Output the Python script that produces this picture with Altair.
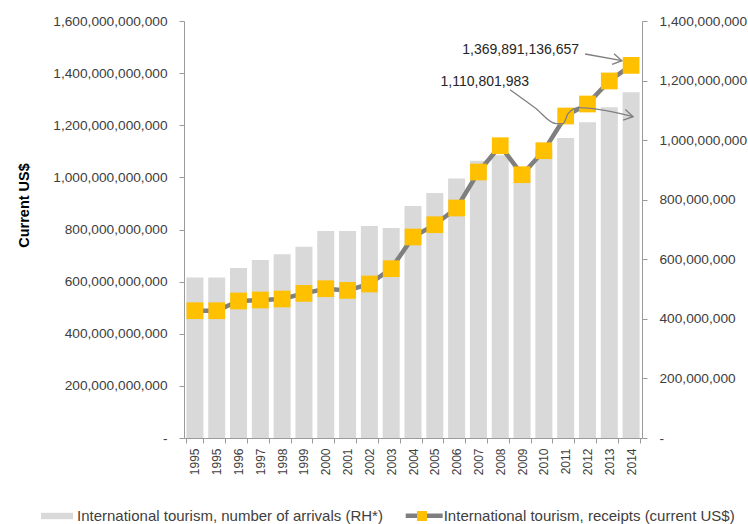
import altair as alt
import pandas as pd

# Category labels along the x axis (the source repeats 1995)
years = ["1995", "1995", "1996", "1997", "1998", "1999", "2000", "2001", "2002", "2003",
         "2004", "2005", "2006", "2007", "2008", "2009", "2010", "2011", "2012", "2013", "2014"]

# International tourism, number of arrivals (right-hand axis)
arrivals = [538_500_000, 538_500_000, 571_100_000, 598_000_000, 617_200_000, 641_800_000,
            694_600_000, 694_600_000, 711_500_000, 704_700_000, 778_800_000, 822_500_000,
            871_600_000, 931_200_000, 949_000_000, 905_000_000, 968_000_000, 1_007_600_000,
            1_060_100_000, 1_110_801_983, 1_161_100_000]

# International tourism, receipts in current US$ (left-hand axis)
receipts = [488_400_000_000, 488_400_000_000, 525_700_000_000, 529_500_000_000, 533_300_000_000,
            554_800_000_000, 572_800_000_000, 566_300_000_000, 590_900_000_000, 649_600_000_000,
            771_200_000_000, 818_400_000_000, 882_500_000_000, 1_020_600_000_000, 1_121_500_000_000,
            1_010_300_000_000, 1_102_300_000_000, 1_235_500_000_000, 1_281_500_000_000,
            1_369_891_136_657, 1_429_700_000_000]

left_ticks = [0, 200e9, 400e9, 600e9, 800e9, 1000e9, 1200e9, 1400e9, 1600e9]
right_ticks = [0, 200e6, 400e6, 600e6, 800e6, 1000e6, 1200e6, 1400e6]

arrivals_name = "International tourism, number of arrivals (RH*)"
receipts_name = "International tourism, receipts (current US$)"

# Callout arrows, in category-index / left-axis units
arrow_receipts_x = [17.89, 19.58]
arrow_receipts_y = [1.4734e12, 1.4477e12]
arrow_arrivals_x = [14.45, 15.59, 16.56, 16.88, 17.11, 17.57, 18.57, 20.09]
arrow_arrivals_y = [1.3364e12, 1.2673e12, 1.2060e12, 1.2060e12, 1.2443e12, 1.2673e12,
                    1.2597e12, 1.2328e12]

FONT = "Liberation Sans"
LABEL = "#404040"
AXIS = "#9a9a9a"
GRAY_BAR = "#D9D9D9"
GRAY_LINE = "#7F7F7F"
GOLD = "#FFC000"

W, H = 458, 417
PAD_L, PAD_T = 184, 21

df = pd.DataFrame({
    "idx": list(range(len(years))),
    "year": years,
    "arrivals": arrivals,
    "receipts": receipts,
    "bar_series": [arrivals_name] * len(years),
    "line_series": [receipts_name] * len(years),
})

year_expr = "[" + ",".join(f"'{y}'" for y in years) + "][datum.value]"
num_expr = "datum.value == 0 ? '-' : format(datum.value, ',.0f')"

x_enc = alt.X(
    "idx:O",
    scale=alt.Scale(paddingInner=0.22, paddingOuter=0.11),
    axis=alt.Axis(
        title=None, labelExpr=year_expr, labelAngle=270, tickBand="extent",
        labelFontSize=12, labelFont=FONT, labelColor=LABEL, labelPadding=5,
        tickSize=5, tickColor=AXIS, domainColor=AXIS, grid=False,
    ),
)

bars = alt.Chart(df).mark_bar().encode(
    x=x_enc,
    y=alt.Y(
        "arrivals:Q",
        scale=alt.Scale(domain=[0, 1.4e9], nice=False),
        axis=alt.Axis(
            orient="right", values=right_ticks, labelExpr=num_expr, title=None,
            labelFontSize=13.7, labelFont=FONT, labelColor=LABEL, labelPadding=12,
            tickSize=5, tickColor=AXIS, domainColor=AXIS, grid=False,
        ),
    ),
    fill=alt.Fill(
        "bar_series:N",
        scale=alt.Scale(range=[GRAY_BAR]),
        legend=alt.Legend(
            orient="none", legendX=41 - PAD_L, legendY=516 - PAD_T - 16, title=None,
            symbolType="M-1,-0.2H1V0.2H-1Z", symbolSize=1024, symbolStrokeWidth=0,
            labelFont=FONT, labelFontSize=15, labelColor=LABEL, labelOffset=4,
            padding=0, labelLimit=0,
        ),
    ),
)

y_left = alt.Y(
    "receipts:Q",
    scale=alt.Scale(domain=[0, 1.6e12], nice=False),
    axis=alt.Axis(
        orient="left", values=left_ticks, labelExpr=num_expr,
        title="Current US$", titleFont=FONT, titleFontSize=14.5, titleFontWeight="bold",
        titleColor="#000000", titleAngle=270, titleAlign="center", titleBaseline="middle",
        titleX=24 - PAD_L, titleY=205 - PAD_T,
        labelFontSize=13.7, labelFont=FONT, labelColor=LABEL, labelPadding=12,
        tickSize=5, tickColor=AXIS, domainColor=AXIS, grid=False,
    ),
)

line = alt.Chart(df).mark_line(strokeWidth=4.5).encode(
    x=x_enc,
    y=y_left,
    stroke=alt.Stroke(
        "line_series:N",
        scale=alt.Scale(range=[GRAY_LINE]),
        legend=alt.Legend(
            orient="none", legendX=403 - PAD_L + 1.7, legendY=516 - PAD_T - 19.8, title=None,
            symbolType="M-1.1,0H1.1", symbolSize=1130, symbolStrokeWidth=4.5,
            labelFont=FONT, labelFontSize=15, labelColor=LABEL, labelOffset=0,
            padding=0, labelLimit=0,
        ),
    ),
)

points = alt.Chart(df).mark_point(shape="square", filled=True, size=280, opacity=1).encode(
    x=x_enc,
    y=y_left,
    color=alt.Color(
        "line_series:N",
        scale=alt.Scale(range=[GOLD]),
        legend=alt.Legend(
            orient="none", legendX=417 - PAD_L, legendY=516 - PAD_T - 5, title=None,
            symbolType="square", symbolSize=100, symbolStrokeWidth=0,
            labelExpr="''", labelFontSize=1, labelOffset=0, padding=0,
        ),
    ),
)

main = alt.layer(bars, alt.layer(line, points)).resolve_scale(y="independent")

# Callouts: arrows and value labels
ax_scale = alt.Scale(domain=[-0.5, len(years) - 0.5], nice=False, zero=False)
ay_scale = alt.Scale(domain=[0, 1.6e12], nice=False)

arrow_df = pd.DataFrame({
    "ax": arrow_receipts_x + arrow_arrivals_x,
    "ay": arrow_receipts_y + arrow_arrivals_y,
    "arrow": ["r"] * len(arrow_receipts_x) + ["a"] * len(arrow_arrivals_x),
    "order": list(range(len(arrow_receipts_x))) + list(range(len(arrow_arrivals_x))),
})

ax_enc = alt.X("ax:Q", scale=ax_scale, axis=None)
ay_enc = alt.Y("ay:Q", scale=ay_scale, axis=None)

arrow_lines = alt.Chart(arrow_df).mark_line(
    color=GRAY_LINE, strokeWidth=1.3, interpolate="monotone"
).encode(x=ax_enc, y=ay_enc, detail="arrow:N", order="order:Q")

chevron = "M-1,-0.6L0,0L-1,0.6"
head_r = alt.Chart(pd.DataFrame({"ax": [arrow_receipts_x[-1]], "ay": [arrow_receipts_y[-1]]})).mark_point(
    shape=chevron, filled=False, size=324, color=GRAY_LINE, strokeWidth=1.3, opacity=1, angle=10
).encode(x=ax_enc, y=ay_enc)
head_a = alt.Chart(pd.DataFrame({"ax": [arrow_arrivals_x[-1]], "ay": [arrow_arrivals_y[-1]]})).mark_point(
    shape=chevron, filled=False, size=324, color=GRAY_LINE, strokeWidth=1.3, opacity=1, angle=12
).encode(x=ax_enc, y=ay_enc)

text_r = alt.Chart(pd.DataFrame({
    "ax": [arrow_receipts_x[0]], "ay": [arrow_receipts_y[0]], "label": [f"{receipts[19]:,}"],
})).mark_text(
    align="right", baseline="middle", dx=-6, dy=-4, font=FONT, fontSize=14, color="#262626"
).encode(x=ax_enc, y=ay_enc, text="label:N")

text_a = alt.Chart(pd.DataFrame({
    "ax": [arrow_arrivals_x[0]], "ay": [arrow_arrivals_y[0]], "label": [f"{arrivals[19]:,}"],
})).mark_text(
    align="right", baseline="middle", dx=19, dy=-7.5, font=FONT, fontSize=14, color="#262626"
).encode(x=ax_enc, y=ay_enc, text="label:N")

annot = alt.layer(arrow_lines, head_r, head_a, text_r, text_a)

chart = alt.layer(main, annot).resolve_scale(x="independent", y="independent").properties(
    width=W, height=H,
    autosize=alt.AutoSizeParams(type="none"),
    padding={"left": PAD_L, "top": PAD_T, "right": 748 - PAD_L - W, "bottom": 524 - PAD_T - H},
    background="white",
).configure_view(stroke=None)

chart.save("out.html", embed_options={"renderer": "svg", "actions": False})
